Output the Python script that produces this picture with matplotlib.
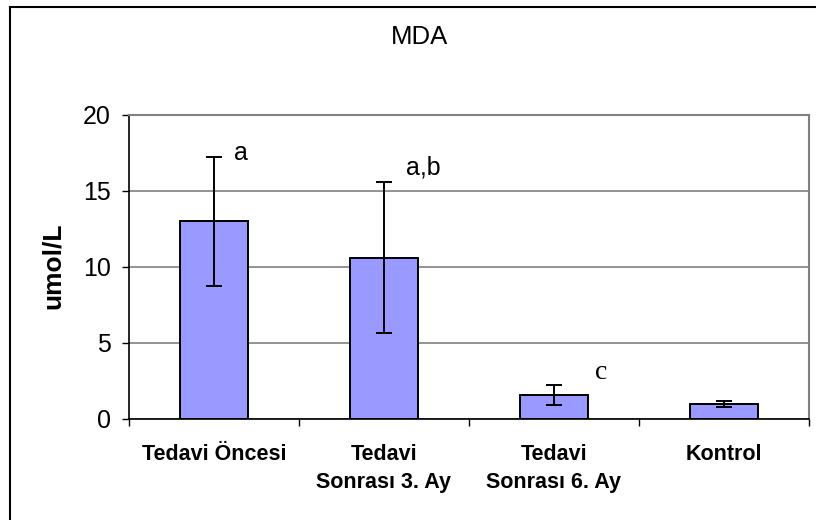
import matplotlib
matplotlib.use("Agg")
import matplotlib.pyplot as plt
from matplotlib.lines import Line2D

plt.rcParams['font.family'] = ['Liberation Sans', 'DejaVu Sans']

groups = ["Tedavi Öncesi", "Tedavi\nSonrası 3. Ay", "Tedavi\nSonrası 6. Ay", "Kontrol"]
means = [13.0, 10.6, 1.6, 1.0]
errors = [4.25, 4.95, 0.65, 0.2]
letters = ["a", "a,b", "c", ""]
letter_x = [0.12, 1.13, 2.24, 0]
letter_y = [17.0, 16.1, 2.6, 0]

fig = plt.figure(figsize=(8.16, 5.2), dpi=100)
ax = fig.add_axes([129 / 816, 101 / 520, 680 / 816, 304.3 / 520])

x = list(range(len(groups)))
ax.bar(x, means, width=0.4, color="#9999FF", edgecolor="black", linewidth=1.4, zorder=3)
ax.errorbar(x, means, yerr=errors, fmt="none", ecolor="black", elinewidth=1.4,
            capsize=5.5, capthick=1.4, zorder=4)

ax.set_xlim(-0.5, 3.5)
ax.set_ylim(0, 20)
ax.set_yticks([0, 5, 10, 15, 20])
ax.yaxis.grid(True, color="#808080", linewidth=1.2, zorder=0)
ax.set_axisbelow(True)

ax.set_xticks(x)
ax.set_xticklabels(groups, fontweight="bold", fontsize=15.5, linespacing=1.45)
ax.tick_params(axis="x", which="major", length=0, pad=18)
ax.set_xticks([-0.5, 0.5, 1.5, 2.5, 3.5], minor=True)
ax.tick_params(axis="x", which="minor", length=5, width=1, direction="out")
ax.tick_params(axis="y", labelsize=18, length=5, width=1, pad=8, direction="out")

for side in ["top", "right"]:
    ax.spines[side].set_color("#808080")
    ax.spines[side].set_linewidth(1.5)
for side in ["left", "bottom"]:
    ax.spines[side].set_color("black")
    ax.spines[side].set_linewidth(1.2)

for i, lab in enumerate(letters):
    if not lab:
        continue
    if lab == "c":
        ax.text(letter_x[i], letter_y[i], lab, fontsize=20, ha="left", va="baseline",
                family=["Liberation Serif", "DejaVu Serif"])
    else:
        ax.text(letter_x[i], letter_y[i], lab, fontsize=18, ha="left", va="baseline")

fig.text(420 / 816, 1 - 37 / 520, "MDA", ha="center", va="center", fontsize=18.5)
fig.text(53 / 816, 1 - 266 / 520, "umol/L", rotation=90, ha="center", va="center",
         fontsize=19, fontweight="bold")

# outer chart border (left and top visible)
fig.add_artist(Line2D([10 / 816, 10 / 816], [0, 1 - 7 / 520], color="black", linewidth=1.5))
fig.add_artist(Line2D([10 / 816, 1], [1 - 7 / 520, 1 - 7 / 520], color="black", linewidth=1.5))

fig.savefig("out.png", dpi=100)
